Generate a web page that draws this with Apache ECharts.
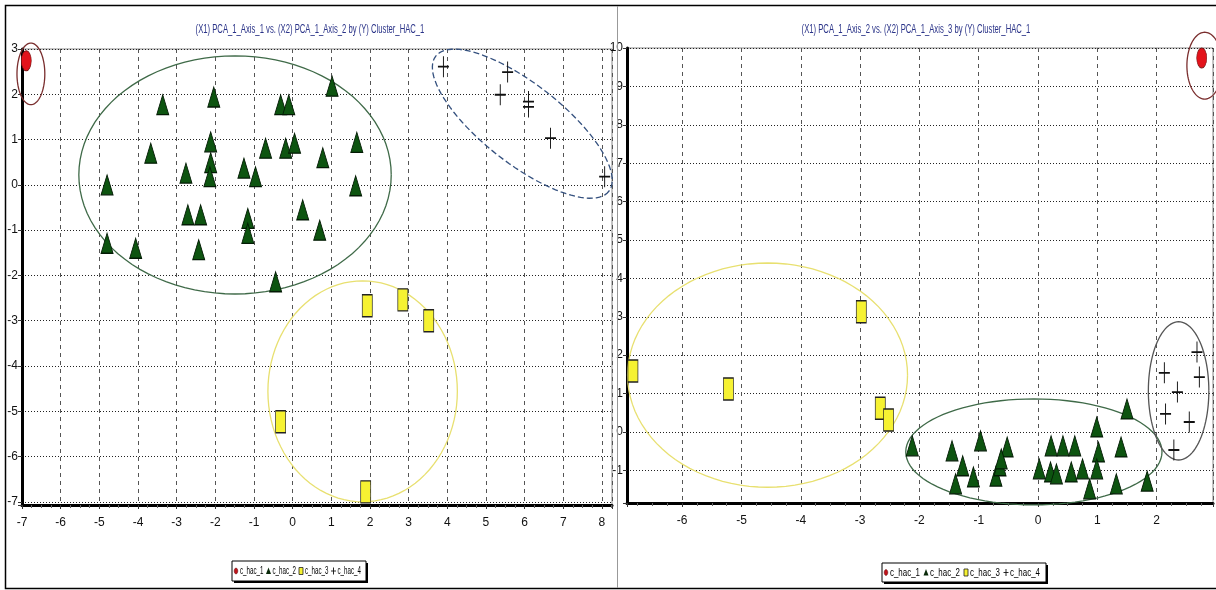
<!DOCTYPE html>
<html>
<head>
<meta charset="utf-8">
<script src="https://cdn.jsdelivr.net/npm/echarts@6/dist/echarts.min.js"></script>
<style>
  html, body { margin: 0; padding: 0; background: #fff; overflow: hidden; }
  #chart { width: 1216px; height: 590px; }
</style>
</head>
<body>
<div id="chart"></div>
<script>
// PCA projections coloured by HAC cluster (two panels)
const clusterNames = ['c_hac_1', 'c_hac_2', 'c_hac_3', 'c_hac_4'];
const leftTitle = '(X1) PCA_1_Axis_1 vs. (X2) PCA_1_Axis_2 by (Y) Cluster_HAC_1';
const rightTitle = '(X1) PCA_1_Axis_2 vs. (X2) PCA_1_Axis_3 by (Y) Cluster_HAC_1';

// Panel 1: Axis_1 (x) vs Axis_2 (y)
const leftHac1 = [[-6.89, 2.74]];
const leftHac2 = [
  [-4.80, 0.00], [-4.80, -1.29], [-4.06, -1.40], [-3.67, 0.70], [-3.36, 1.77],
  [-2.76, 0.26], [-2.71, -0.66], [-2.38, -0.66], [-2.43, -1.43], [-2.12, 0.95],
  [-2.12, 0.49], [-2.14, 0.18], [-2.04, 1.94], [-1.26, 0.37], [-1.16, -0.74],
  [-1.16, -1.07], [-0.96, 0.18], [-0.70, 0.81], [-0.44, -2.14], [-0.31, 1.77],
  [-0.10, 1.77], [-0.18, 0.81], [0.05, 0.92], [0.26, -0.55], [0.70, -1.00],
  [0.78, 0.60], [1.02, 2.18], [1.66, 0.94], [1.63, -0.02]
];
const leftHac3 = [[1.93, -2.67], [2.85, -2.54], [3.52, -3.00], [-0.31, -5.23], [1.89, -6.78]];
const leftHac4 = [[3.90, 2.61], [5.56, 2.49], [5.37, 1.99], [6.10, 1.84], [6.10, 1.72], [6.67, 1.03], [8.07, 0.18]];
// cluster outlines: [centre x, centre y, radius x, radius y, tilt in degrees]
const leftRings = [
  [-6.77, 2.45, 0.36, 0.68, 0],
  [-1.49, 0.22, 4.04, 2.63, 0],
  [1.81, -4.56, 2.45, 2.44, 0],
  [5.94, 1.35, 2.84, 0.88, 38]
];

// Panel 2: Axis_2 (x) vs Axis_3 (y)
const rightHac1 = [[2.76, 9.74]];
const rightHac2 = [
  [-2.12, -0.36], [-1.45, -0.49], [-1.27, -0.88], [-1.39, -1.35], [-1.09, -1.17],
  [-0.97, -0.23], [-0.71, -1.15], [-0.64, -0.88], [-0.52, -0.39], [-0.62, -0.70],
  [0.02, -0.96], [0.21, -1.04], [0.31, -1.09], [0.22, -0.36], [0.42, -0.36],
  [0.62, -0.36], [0.56, -1.04], [0.75, -0.96], [0.87, -1.48], [0.99, 0.13],
  [1.02, -0.52], [0.99, -0.96], [1.40, -0.39], [1.32, -1.35], [1.50, 0.60],
  [1.84, -1.28]
];
const rightHac3 = [[-6.83, 1.59], [-5.22, 1.12], [-2.98, 3.13], [-2.66, 0.62], [-2.52, 0.31]];
const rightHac4 = [[2.13, 1.54], [2.35, 1.04], [2.15, 0.47], [2.55, 0.26], [2.29, -0.47], [2.68, 2.08], [2.72, 1.43]];
const rightRings = [
  [2.81, 9.54, 0.30, 0.87, 0],
  [-4.56, 1.48, 2.36, 2.92, 0],
  [-0.07, -0.52, 2.16, 1.38, 0],
  [2.37, 1.07, 0.51, 1.80, 0]
];

const FONT = "'Liberation Sans Narrow','Arial Narrow','Liberation Sans',sans-serif";

const ringStylesLeft = [
  { stroke: '#7a2e2e', dash: null },
  { stroke: '#3f6a48', dash: null },
  { stroke: '#e8e070', dash: null },
  { stroke: '#34507e', dash: [6, 3] }
];
const ringStylesRight = [
  { stroke: '#7a2e2e', dash: null },
  { stroke: '#e8e070', dash: null },
  { stroke: '#3f6a48', dash: null },
  { stroke: '#555555', dash: null }
];

const ELLIPSE = 'path://M0,10A5,10 0 1,1 10,10A5,10 0 1,1 0,10Z';
const CROSS = 'path://M0,10L20,10M10,0L10,20';

const markerStyles = [
  { symbol: ELLIPSE, symbolSize: [10, 20], itemStyle: { color: '#e3131b', borderColor: '#7a1010', borderWidth: 0.8, opacity: 1 } },
  { symbol: 'triangle', symbolSize: [12, 20], itemStyle: { color: '#0d5410', borderColor: '#031a04', borderWidth: 1, opacity: 1 } },
  { symbol: 'rect', symbolSize: [10, 22], itemStyle: { color: '#f6f232', borderColor: '#222', borderWidth: 1, opacity: 1 } },
  { symbol: CROSS, symbolSize: [11, 21], itemStyle: { color: 'rgba(0,0,0,0)', borderColor: '#111', borderWidth: 1.3, opacity: 1 } }
];

function intLabel(v) {
  return Math.abs(v - Math.round(v)) < 1e-6 ? String(Math.round(v)) : '';
}

function makeAxis(gridIndex, min, max, splitNumber, isX) {
  return {
    type: 'value',
    gridIndex: gridIndex,
    min: min,
    max: max,
    splitNumber: splitNumber,
    axisLine: { show: true, onZero: false, lineStyle: { color: '#000', width: 3 } },
    axisTick: { show: true, length: 4, lineStyle: { color: '#333', width: 1 } },
    minorTick: { show: isX, splitNumber: 4, length: 3, lineStyle: { color: '#666' } },
    splitLine: {
      show: true,
      lineStyle: isX
        ? { color: '#555', width: 1, type: [4, 4] }
        : { color: '#222', width: 1, type: [1, 2] }
    },
    axisLabel: {
      formatter: intLabel,
      color: '#111',
      fontSize: 12,
      fontFamily: FONT,
      margin: isX ? 12 : 4,
      showMinLabel: true,
      showMaxLabel: true
    }
  };
}

function ringSeries(name, rings, styles, xi, yi) {
  return {
    type: 'custom',
    name: name,
    xAxisIndex: xi,
    yAxisIndex: yi,
    silent: true,
    z: 1,
    clip: false,
    data: rings,
    renderItem: function (params, api) {
      const c = api.coord([api.value(0), api.value(1)]);
      const s = api.size([api.value(2), api.value(3)]);
      const t = api.value(4) * Math.PI / 180;
      const pts = [];
      for (let k = 0; k <= 96; k++) {
        const a = 2 * Math.PI * k / 96;
        const ex = s[0] * Math.cos(a);
        const ey = s[1] * Math.sin(a);
        pts.push([c[0] + ex * Math.cos(t) - ey * Math.sin(t), c[1] + ex * Math.sin(t) + ey * Math.cos(t)]);
      }
      const st = styles[params.dataIndex];
      return {
        type: 'polyline',
        shape: { points: pts },
        style: { fill: 'none', stroke: st.stroke, lineWidth: 1.3, lineDash: st.dash }
      };
    }
  };
}

function scatterSeries(idx, data, xi, yi) {
  const m = markerStyles[idx];
  return {
    type: 'scatter',
    name: clusterNames[idx],
    xAxisIndex: xi,
    yAxisIndex: yi,
    z: 3,
    data: data,
    symbol: m.symbol,
    symbolSize: m.symbolSize,
    itemStyle: m.itemStyle,
    emphasis: { disabled: true }
  };
}

// Compact legend box: small key glyph followed by a condensed label per cluster
function legendGroup(x, y, w, h, step, fontSize, squeeze) {
  const kids = [
    { type: 'rect', shape: { x: 2, y: 2, width: w, height: h }, style: { fill: '#000' } },
    { type: 'rect', shape: { x: 0, y: 0, width: w, height: h }, style: { fill: '#fff', stroke: '#000', lineWidth: 1 } }
  ];
  const cy = h / 2;
  clusterNames.forEach(function (name, i) {
    const ix = 4 + i * step;
    if (i === 0) {
      kids.push({ type: 'ellipse', shape: { cx: ix, cy: cy, rx: 1.8, ry: 3 }, style: { fill: '#c0131b', stroke: '#5a0a0a', lineWidth: 0.5 } });
    } else if (i === 1) {
      kids.push({ type: 'polygon', shape: { points: [[ix, cy - 3.5], [ix + 2.5, cy + 3], [ix - 2.5, cy + 3]] }, style: { fill: '#0a2a0a' } });
    } else if (i === 2) {
      kids.push({ type: 'rect', shape: { x: ix - 2, y: cy - 3.5, width: 4, height: 7 }, style: { fill: '#f6f232', stroke: '#222', lineWidth: 0.8 } });
    } else {
      kids.push({ type: 'line', shape: { x1: ix - 2.5, y1: cy, x2: ix + 2.5, y2: cy }, style: { stroke: '#111', lineWidth: 0.9 } });
      kids.push({ type: 'line', shape: { x1: ix, y1: cy - 3.5, x2: ix, y2: cy + 3.5 }, style: { stroke: '#111', lineWidth: 0.9 } });
    }
    kids.push({
      type: 'text', x: ix + 4, y: cy, scaleX: squeeze,
      style: { text: name, fill: '#000', font: fontSize + 'px ' + FONT, textAlign: 'left', textVerticalAlign: 'middle' }
    });
  });
  return { type: 'group', x: x, y: y, z: 100, children: kids };
}

const chart = echarts.init(document.getElementById('chart'), null, { renderer: 'canvas' });

chart.setOption({
  animation: false,
  backgroundColor: '#fff',
  grid: [
    { left: 22, top: 49, width: 590, height: 456, show: true, borderColor: '#888', borderWidth: 1, backgroundColor: '#fff' },
    { left: 627, top: 48, width: 595, height: 455, show: true, borderColor: '#888', borderWidth: 1, backgroundColor: '#fff' }
  ],
  xAxis: [
    makeAxis(0, -7, 8.26, 15, true),
    makeAxis(1, -6.93, 2.95, 10, true)
  ],
  yAxis: [
    makeAxis(0, -7.07, 3, 10, false),
    makeAxis(1, -1.85, 10, 12, false)
  ],
  graphic: [
    { type: 'rect', shape: { x: 5.5, y: 5.5, width: 1220, height: 583 }, style: { fill: 'none', stroke: '#000', lineWidth: 1.5 }, z: 100 },
    { type: 'line', shape: { x1: 617.5, y1: 6, x2: 617.5, y2: 588 }, style: { stroke: '#999', lineWidth: 1 }, z: 100 },
    { type: 'text', x: 310, y: 30, scaleX: 0.64, style: { text: leftTitle, fill: '#2a3388', font: '12px ' + FONT, textAlign: 'center', textVerticalAlign: 'middle' }, z: 100 },
    { type: 'text', x: 916, y: 30, scaleX: 0.64, style: { text: rightTitle, fill: '#2a3388', font: '12px ' + FONT, textAlign: 'center', textVerticalAlign: 'middle' }, z: 100 },
    legendGroup(232, 561, 134, 20, 32.5, 10, 0.62),
    legendGroup(882, 563, 164, 19, 40, 11, 0.72)
  ],
  series: [
    ringSeries('ringsLeft', leftRings, ringStylesLeft, 0, 0),
    scatterSeries(0, leftHac1, 0, 0),
    scatterSeries(1, leftHac2, 0, 0),
    scatterSeries(2, leftHac3, 0, 0),
    scatterSeries(3, leftHac4, 0, 0),
    ringSeries('ringsRight', rightRings, ringStylesRight, 1, 1),
    scatterSeries(0, rightHac1, 1, 1),
    scatterSeries(1, rightHac2, 1, 1),
    scatterSeries(2, rightHac3, 1, 1),
    scatterSeries(3, rightHac4, 1, 1)
  ]
});
</script>
</body>
</html>
